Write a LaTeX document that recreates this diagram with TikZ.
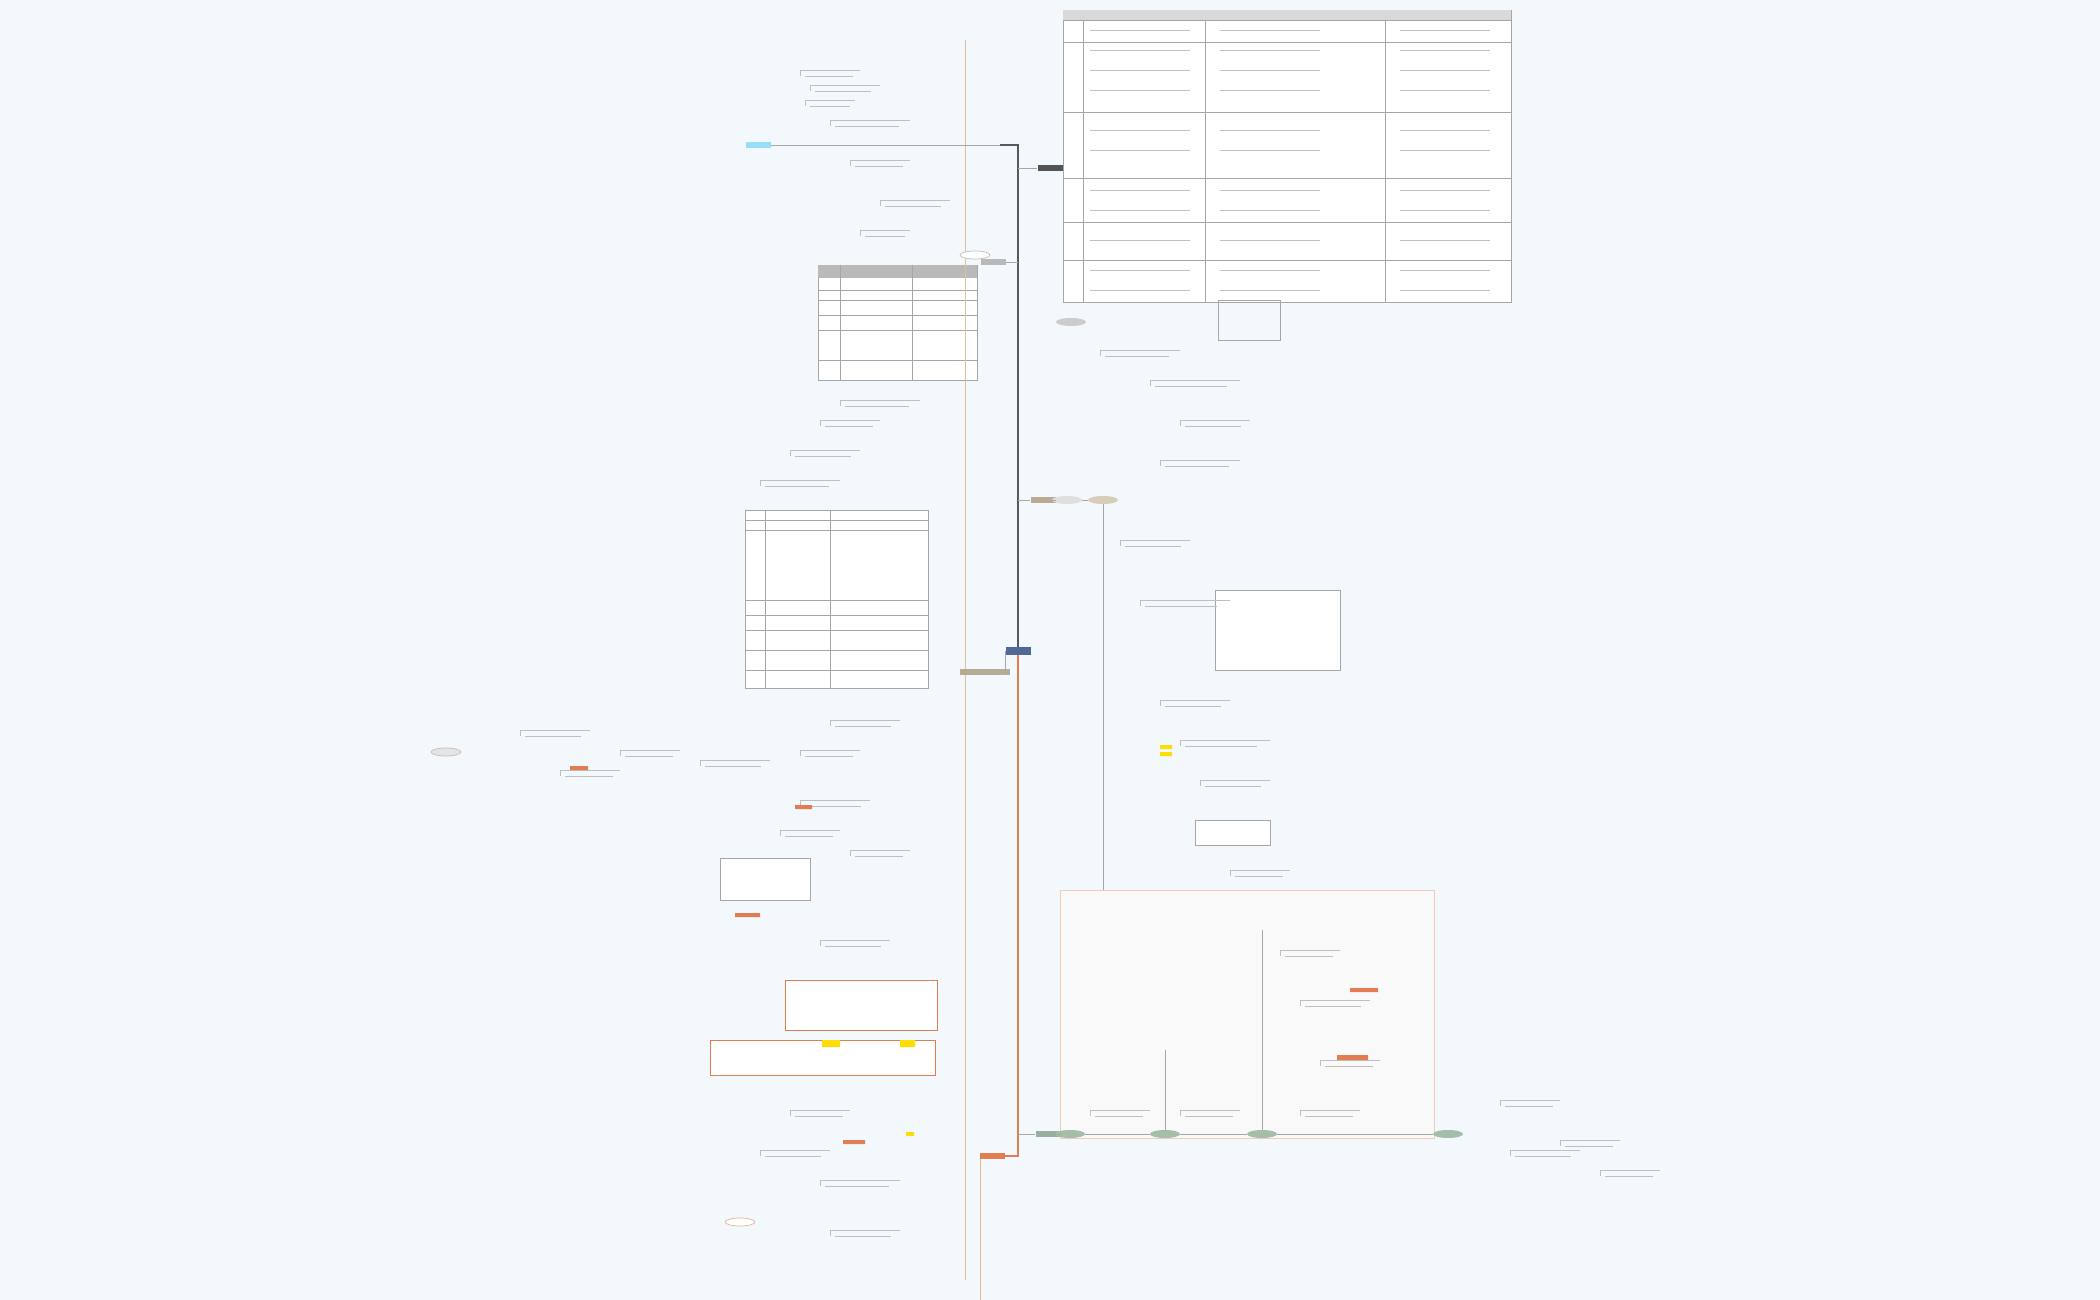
\documentclass[tikz,border=0pt]{standalone}
\usetikzlibrary{shapes.geometric}
\definecolor{bgc}{RGB}{243,248,252}
\definecolor{cblue}{RGB}{80,105,150}
\definecolor{cbeige}{RGB}{185,170,150}
\definecolor{cbeige2}{RGB}{215,205,185}
\definecolor{corange}{RGB}{225,125,80}
\definecolor{cgreen}{RGB}{150,175,160}
\definecolor{cgreen2}{RGB}{165,190,170}
\tikzset{
 x=0.02cm,y=-0.02cm,
 tiny/.style={font=\fontsize{2.2}{2.6}\selectfont,inner sep=0.6pt},
 topic/.style={tiny,fill=#1,text=white,minimum width=0.5cm,minimum height=0.12cm},
 oval/.style={ellipse,tiny,fill=#1,minimum width=0.6cm,minimum height=0.16cm},
 trunk/.style={line width=1pt,draw=#1},
 thin/.style={line width=0.25pt,draw=gray!50},
 tbl/.style={line width=0.3pt,draw=gray!70},
}
\begin{document}
\begin{tikzpicture}
\fill[bgc] (0,0) rectangle (2100,1300);
\useasboundingbox (0,0) rectangle (2100,1300);
\draw[tbl,fill=white!50] (1063,10) rectangle (1511,302);
\fill[gray!30] (1063,10) rectangle (1511,20);
\foreach \x in {1083,1205,1385} \draw[tbl] (\x,20) -- (\x,302);
\foreach \y in {20,42,112,178,222,260} \draw[tbl] (1063,\y) -- (1511,\y);
\draw[tbl,fill=white] (818,265) rectangle (977,380);
\fill[gray!55] (818,265) rectangle (977,278);
\foreach \y in {290,300,315,330,360} \draw[tbl] (818,\y) -- (977,\y);
\draw[tbl] (840,265)--(840,380) (912,265)--(912,380);
\draw[tbl,fill=white] (745,510) rectangle (928,688);
\foreach \y in {520,530,600,615,630,650,670} \draw[tbl] (745,\y) -- (928,\y);
\draw[tbl] (765,510)--(765,688) (830,510)--(830,688);
\draw[line width=0.4pt,draw=corange!40,fill=gray!5] (1060,890) rectangle (1434,1138);
\draw[tbl] (1218,300) rectangle (1280,340);
\draw[tbl,fill=white] (720,858) rectangle (810,900);
\draw[tbl,draw=corange,fill=white] (785,980) rectangle (937,1030);
\draw[tbl,draw=corange,fill=white] (710,1040) rectangle (935,1075);
\fill[yellow!80!orange] (822,1040) rectangle (840,1047) (900,1040) rectangle (915,1047);
\draw[tbl,fill=white] (1215,590) rectangle (1340,670);
\draw[tbl,fill=white] (1195,820) rectangle (1270,845);
\draw[trunk=gray!70!black] (1018,651) -- (1018,145) -- (1000,145);
\draw[trunk=corange] (1018,651) -- (1018,1156) -- (1000,1156);
\draw[thin,draw=brown!50] (965,672) -- (965,40) (965,672) -- (965,1280);
\draw[thin,draw=corange!60] (980,1156) -- (980,1300);
\node[topic=cblue,minimum height=0.18cm] (center) at (1018,651) {};
\node[topic=gray!65!black] (b1) at (1050,168) {};
\node[topic=gray!55] (b2) at (993,262) {};
\node[topic=cbeige] (b3) at (1043,500) {};
\node[oval=gray!25] (b3a) at (1067,500) {};
\node[oval=cbeige2] (b3b) at (1103,500) {};
\node[topic=cbeige,minimum width=1cm] (b4) at (985,672) {};
\node[topic=corange] (b5) at (992,1156) {};
\node[topic=cgreen] (b6) at (1048,1134) {};
\node[oval=cgreen2] (b6a) at (1070,1134) {};
\node[oval=cgreen2] (b6b) at (1165,1134) {};
\node[oval=cgreen2] (b6c) at (1262,1134) {};
\node[oval=cgreen2] (b6d) at (1448,1134) {};
\node[oval=gray!20,draw=gray!50] (l1) at (446,752) {};
\node[oval=white,draw=corange!60] (l2) at (740,1222) {};
\node[oval=white,draw=gray!50] (l3) at (975,255) {};
\node[oval=gray!40] (r1) at (1071,322) {};
\node[topic=cyan!40,text=black] (lt) at (758,145) {};
\draw[thin,draw=gray!70] (1018,168) -- (b1) (1018,262) -- (b2) (1018,500) -- (b3) (b3) -- (b3a) -- (b3b)
 (b4) -- (1005,672) -- (1005,651) (1018,1134) -- (b6) (b6) -- (b6a) -- (b6b) -- (b6c) -- (b6d);
\draw[thin,draw=gray!70] (b1) -- (1063,168) (lt) -- (1000,145) (b3b) -- (1103,890) (b6b) -- (1165,1050) (b6c) -- (1262,930);
\foreach \x/\y/\w in {800/70/60,810/85/70,805/100/50,830/120/80,850/160/60,880/200/70,860/230/50,
 840/400/80,820/420/60,790/450/70,760/480/80,830/720/70,800/750/60,700/760/70,620/750/60,520/730/70,
 560/770/60,800/800/70,780/830/60,850/850/60,820/940/70,790/1110/60,760/1150/70,820/1180/80,830/1230/70,
 1100/350/80,1150/380/90,1180/420/70,1160/460/80,1120/540/70,1140/600/90,1160/700/70,1180/740/90,
 1200/780/70,1230/870/60,1090/1110/60,1180/1110/60,1500/1100/60,1510/1150/70,1560/1140/60,1600/1170/60,
 1280/950/60,1300/1000/70,1320/1060/60,1300/1110/60}
 { \draw[thin] (\x,\y) -- ++(\w,0); \draw[thin] (\x+5,\y+6) -- ++(\w*0.8,0); \draw[thin] (\x,\y) -- (\x,\y+6);}
\foreach \y in {30,50,70,90,130,150,190,210,240,270,290}
 { \draw[thin] (1090,\y) -- ++(100,0); \draw[thin] (1220,\y) -- ++(100,0); \draw[thin] (1400,\y) -- ++(90,0);}
\fill[corange] (570,766) rectangle (588,770) (1350,988) rectangle (1378,992) (1337,1055) rectangle (1368,1060)
 (735,913) rectangle (760,917) (843,1140) rectangle (865,1144) (795,805) rectangle (812,809);
\fill[yellow!80!orange] (1160,745) rectangle (1172,749) (1160,752) rectangle (1172,756) (906,1132) rectangle (914,1136);
\end{tikzpicture}
\end{document}
